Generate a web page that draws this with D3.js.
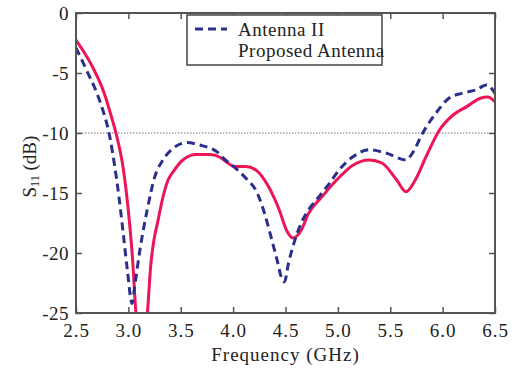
<!DOCTYPE html>
<html>
<head>
<meta charset="utf-8">
<script src="https://cdn.jsdelivr.net/npm/d3@7"></script>
<style>
  body { margin: 0; background: #fff; }
  svg text { font-family: "Liberation Serif", "Times New Roman", serif; }
</style>
</head>
<body>
<svg id="chart" width="517" height="374"></svg>
<script>
// S11 curves
const freqTicks = [2.5, 3.0, 3.5, 4.0, 4.5, 5.0, 5.5, 6.0, 6.5];
const dbTicks = [0, -5, -10, -15, -20, -25];

const antenna2F = [2.5, 2.6, 2.7, 2.76, 2.82, 2.87, 2.91, 2.95, 2.99, 3.035, 3.06, 3.11, 3.18, 3.25, 3.33, 3.43, 3.56, 3.68, 3.85, 3.92, 4.02, 4.12, 4.23, 4.3, 4.36, 4.42, 4.47, 4.49, 4.53, 4.58, 4.65, 4.72, 4.82, 4.92, 5.01, 5.14, 5.3, 5.47, 5.65, 5.71, 5.81, 5.94, 6.06, 6.18, 6.32, 6.42, 6.5];
const antenna2Db = [-2.9, -4.75, -6.7, -8.2, -10.2, -12.8, -15.3, -18.3, -21.4, -24.2, -22.8, -19.75, -16.4, -13.7, -12.25, -11.25, -10.8, -11, -11.6, -12.2, -12.9, -13.75, -15, -16.7, -18.6, -20.6, -22.25, -22.4, -20.8, -19.2, -17.5, -16.4, -15.3, -14.2, -13.1, -12, -11.4, -11.7, -12.25, -11.7, -10, -8.3, -7.1, -6.7, -6.4, -6, -6.7];

const proposedF = [2.5, 2.64, 2.77, 2.84, 2.89, 2.95, 3.0, 3.04, 3.07, 3.125, 3.18, 3.21, 3.29, 3.38, 3.43, 3.52, 3.65, 3.78, 3.87, 3.95, 4.01, 4.12, 4.22, 4.34, 4.44, 4.51, 4.57, 4.65, 4.72, 4.85, 4.99, 5.14, 5.3, 5.42, 5.56, 5.65, 5.74, 5.84, 5.97, 6.1, 6.23, 6.36, 6.43, 6.5];
const proposedDb = [-2.25, -4.2, -6.7, -8.7, -10.3, -12.9, -16.5, -20.5, -24.75, -28, -25.2, -21.4, -17, -13.9, -13.2, -12.25, -11.8, -11.8, -12, -12.5, -12.8, -12.8, -13.1, -14.5, -16.4, -18.1, -18.75, -18.1, -16.7, -15.3, -13.9, -12.7, -12.25, -12.5, -13.9, -14.9, -13.9, -12, -9.75, -8.5, -7.8, -7.1, -7, -7.4];

const threshold = -10;

const svg = d3.select('#chart');
const plotL = 76, plotR = 495, plotT = 13, plotB = 313;

const x = d3.scaleLinear().domain([2.5, 6.5]).range([plotL, plotR]);
const y = d3.scaleLinear().domain([0, -25]).range([plotT, plotB]);

svg.append('defs').append('clipPath').attr('id', 'plot-clip')
  .append('rect').attr('x', plotL).attr('y', plotT)
  .attr('width', plotR - plotL).attr('height', plotB - plotT);

// threshold line
svg.append('line')
  .attr('x1', plotL).attr('x2', plotR)
  .attr('y1', y(threshold)).attr('y2', y(threshold))
  .attr('stroke', '#777').attr('stroke-width', 1.2)
  .attr('stroke-dasharray', '1.5,1.5');

const line = d3.line()
  .x(d => x(d[0])).y(d => y(d[1]))
  .curve(d3.curveMonotoneX);

const plot = svg.append('g').attr('clip-path', 'url(#plot-clip)');

plot.append('path')
  .datum(proposedF.map((f, i) => [f, proposedDb[i]]))
  .attr('d', line)
  .attr('fill', 'none').attr('stroke', '#ee1556').attr('stroke-width', 3);

plot.append('path')
  .datum(antenna2F.map((f, i) => [f, antenna2Db[i]]))
  .attr('d', line)
  .attr('fill', 'none').attr('stroke', '#2b2f8c').attr('stroke-width', 3)
  .attr('stroke-dasharray', '8,5');

// axes, ticks pointing inward on all four sides
const frameColor = '#555';
const bottomAxis = d3.axisBottom(x).tickValues(freqTicks).tickFormat(d3.format('.1f')).tickSizeInner(-6).tickSizeOuter(0).tickPadding(10);
const topAxis = d3.axisTop(x).tickValues(freqTicks).tickFormat('').tickSizeInner(-6).tickSizeOuter(0);
const leftAxis = d3.axisLeft(y).tickValues(dbTicks).tickFormat(d => String(d)).tickSizeInner(-6).tickSizeOuter(0).tickPadding(7);
const rightAxis = d3.axisRight(y).tickValues(dbTicks).tickFormat('').tickSizeInner(-6).tickSizeOuter(0);

function style(g) {
  g.select('.domain').remove();
  g.selectAll('line').attr('stroke', frameColor).attr('stroke-width', 1.5);
  g.selectAll('text').attr('fill', '#222').attr('font-size', 19).style('letter-spacing', '1px');
}

svg.append('g').attr('transform', `translate(0,${plotB})`).call(bottomAxis).call(style)
  .selectAll('text').attr('dy', '0.72em');
svg.append('g').attr('transform', `translate(0,${plotT})`).call(topAxis).call(style);
svg.append('g').attr('transform', `translate(${plotL},0)`).call(leftAxis).call(style)
  .selectAll('text').style('letter-spacing', '0.5px');
svg.append('g').attr('transform', `translate(${plotR},0)`).call(rightAxis).call(style);

svg.append('rect')
  .attr('x', plotL).attr('y', plotT)
  .attr('width', plotR - plotL).attr('height', plotB - plotT)
  .attr('fill', 'none').attr('stroke', frameColor).attr('stroke-width', 2);

// axis titles
svg.append('text')
  .attr('x', (plotL + plotR) / 2).attr('y', 361)
  .attr('text-anchor', 'middle').attr('font-size', 19).attr('fill', '#222')
  .style('letter-spacing', '1px')
  .text('Frequency (GHz)');

const yl = svg.append('text')
  .attr('transform', `translate(36,${y(-12.8)}) rotate(-90)`)
  .attr('text-anchor', 'middle').attr('font-size', 19).attr('fill', '#222');
yl.append('tspan').text('S');
yl.append('tspan').attr('font-size', 12).attr('dy', 3).text('11');
yl.append('tspan').attr('dy', -3).text(' (dB)');

// legend
const lg = svg.append('g').attr('transform', 'translate(187,15)');
lg.append('rect').attr('width', 195).attr('height', 50)
  .attr('fill', '#fff').attr('stroke', '#444').attr('stroke-width', 1.5);
lg.append('line').attr('x1', 8).attr('x2', 40).attr('y1', 14).attr('y2', 14)
  .attr('stroke', '#2b2f8c').attr('stroke-width', 3).attr('stroke-dasharray', '8,5');
lg.append('text').attr('x', 51).attr('y', 21).attr('font-size', 19).attr('fill', '#222')
  .style('letter-spacing', '0.5px').text('Antenna II');
lg.append('text').attr('x', 51).attr('y', 42).attr('font-size', 19).attr('fill', '#222')
  .style('letter-spacing', '0.5px').text('Proposed Antenna');
</script>
</body>
</html>
